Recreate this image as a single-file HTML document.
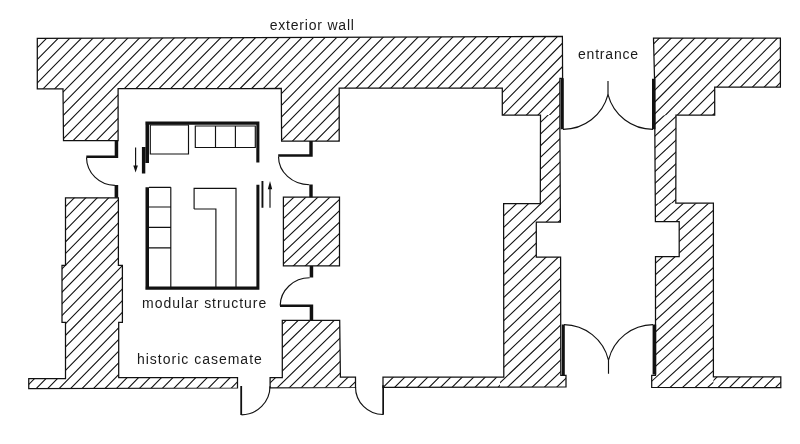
<!DOCTYPE html><html><head><meta charset="utf-8"><style>html,body{margin:0;padding:0;background:#fff;}svg{display:block;filter:grayscale(1)}text{font-family:"Liberation Sans",sans-serif;fill:#1a1a1a}</style></head><body>
<svg width="800" height="444" viewBox="0 0 800 444">
<defs>
<clipPath id="cL1"><path d="M37.30 38.40L562.40 36.50L562.60 78.40L559.90 78.40L559.90 130.00L560.40 222.00L536.30 222.00L536.30 257.00L560.60 257.00L560.80 375.40L566.00 375.40L566.00 387.00L383.00 387.30L383.00 377.20L503.80 377.20L503.60 203.50L540.30 203.50L540.50 115.00L502.30 115.00L502.30 88.00L339.20 88.00L339.20 141.00L281.60 141.00L281.30 88.50L118.10 88.70L118.10 140.60L63.50 140.60L63.00 88.75L37.30 88.75Z"/></clipPath>
<clipPath id="cL2"><path d="M65.50 197.80L118.40 197.80L118.40 265.40L122.40 265.40L122.40 322.30L118.70 322.30L118.70 377.70L237.50 377.70L237.50 388.00L28.75 388.50L28.75 378.60L65.50 378.60L65.50 322.30L62.00 322.30L62.00 265.40L65.50 265.40Z"/></clipPath>
<clipPath id="cL3"><path d="M283.40 197.20L339.50 197.20L339.50 265.90L283.40 265.90Z"/></clipPath>
<clipPath id="cL4"><path d="M282.30 320.30L339.70 320.30L340.40 377.20L355.50 377.20L355.50 387.50L270.10 387.80L270.10 377.70L282.30 377.70Z"/></clipPath>
<clipPath id="cR1"><path d="M653.50 38.00L780.40 38.00L780.40 87.00L714.70 87.00L714.70 115.00L676.00 115.00L675.80 203.20L713.40 203.20L713.40 376.90L780.80 376.90L780.80 387.60L651.70 387.30L651.70 375.40L655.50 375.40L655.50 256.70L679.20 256.70L679.20 221.60L655.40 221.60L654.50 78.00Z"/></clipPath>
<clipPath id="rF1"><path d="M0 0H500V142H0ZM500 0H570V115H500Z"/></clipPath>
<clipPath id="rF2"><path d="M500 115H570V390H500Z"/></clipPath>
<clipPath id="rF3"><path d="M370 370H500V390H370Z"/></clipPath>
<clipPath id="rF4"><path d="M0 0H800V444H0Z"/></clipPath>
<clipPath id="rF5"><path d="M0 0H800V444H0Z"/></clipPath>
<clipPath id="rF6"><path d="M0 0H800V444H0Z"/></clipPath>
<clipPath id="rF7"><path d="M640 0H800V115.2H640Z"/></clipPath>
<clipPath id="rF8a"><path d="M640 115.2H800V203.2H640Z"/></clipPath>
<clipPath id="rF8"><path d="M640 203.2H713.4V390H640Z"/></clipPath>
<clipPath id="rF9"><path d="M713.4 370H800V390H713.4Z"/></clipPath>
</defs>
<g clip-path="url(#cL1)"><path clip-path="url(#rF1)" d="M-150.05 144.00L-6.24 -2.00M-138.48 144.00L5.33 -2.00M-126.91 144.00L16.90 -2.00M-115.34 144.00L28.47 -2.00M-103.77 144.00L40.04 -2.00M-92.20 144.00L51.61 -2.00M-80.63 144.00L63.18 -2.00M-69.06 144.00L74.75 -2.00M-57.49 144.00L86.32 -2.00M-45.92 144.00L97.89 -2.00M-34.35 144.00L109.46 -2.00M-22.78 144.00L121.03 -2.00M-11.21 144.00L132.60 -2.00M0.36 144.00L144.17 -2.00M11.93 144.00L155.74 -2.00M23.50 144.00L167.31 -2.00M35.07 144.00L178.88 -2.00M46.64 144.00L190.45 -2.00M58.21 144.00L202.02 -2.00M69.78 144.00L213.59 -2.00M81.35 144.00L225.16 -2.00M92.92 144.00L236.73 -2.00M104.49 144.00L248.30 -2.00M116.06 144.00L259.87 -2.00M127.63 144.00L271.44 -2.00M139.20 144.00L283.01 -2.00M150.77 144.00L294.58 -2.00M162.34 144.00L306.15 -2.00M173.91 144.00L317.72 -2.00M185.48 144.00L329.29 -2.00M197.05 144.00L340.86 -2.00M208.62 144.00L352.43 -2.00M220.19 144.00L364.00 -2.00M231.76 144.00L375.57 -2.00M243.33 144.00L387.14 -2.00M254.90 144.00L398.71 -2.00M266.47 144.00L410.28 -2.00M278.04 144.00L421.85 -2.00M289.61 144.00L433.42 -2.00M301.18 144.00L444.99 -2.00M312.75 144.00L456.56 -2.00M324.32 144.00L468.13 -2.00M335.89 144.00L479.70 -2.00M347.46 144.00L491.27 -2.00M359.03 144.00L502.84 -2.00M370.60 144.00L514.41 -2.00M382.17 144.00L525.98 -2.00M393.74 144.00L537.55 -2.00M405.31 144.00L549.12 -2.00M416.88 144.00L560.69 -2.00M428.45 144.00L572.26 -2.00M440.02 144.00L583.83 -2.00M451.59 144.00L595.40 -2.00M463.16 144.00L606.97 -2.00M474.73 144.00L618.54 -2.00M486.30 144.00L630.11 -2.00M497.87 144.00L641.68 -2.00M509.44 144.00L653.25 -2.00M521.01 144.00L664.82 -2.00M532.58 144.00L676.39 -2.00M544.15 144.00L687.96 -2.00M555.72 144.00L699.53 -2.00M567.29 144.00L711.10 -2.00M578.86 144.00L722.67 -2.00" stroke="#111" stroke-width="1.1" fill="none"/></g>
<g clip-path="url(#cL1)"><path clip-path="url(#rF2)" d="M196.04 392.00L488.99 113.00M208.30 392.00L501.25 113.00M220.56 392.00L513.51 113.00M232.82 392.00L525.77 113.00M245.08 392.00L538.03 113.00M257.34 392.00L550.29 113.00M269.60 392.00L562.55 113.00M281.86 392.00L574.81 113.00M294.12 392.00L587.07 113.00M306.38 392.00L599.33 113.00M318.64 392.00L611.59 113.00M330.90 392.00L623.85 113.00M343.16 392.00L636.11 113.00M355.42 392.00L648.37 113.00M367.68 392.00L660.63 113.00M379.94 392.00L672.89 113.00M392.20 392.00L685.15 113.00M404.46 392.00L697.41 113.00M416.72 392.00L709.67 113.00M428.98 392.00L721.93 113.00M441.24 392.00L734.19 113.00M453.50 392.00L746.45 113.00M465.76 392.00L758.71 113.00M478.02 392.00L770.97 113.00M490.28 392.00L783.23 113.00M502.54 392.00L795.49 113.00M514.80 392.00L807.75 113.00M527.06 392.00L820.01 113.00M539.32 392.00L832.27 113.00M551.58 392.00L844.53 113.00M563.84 392.00L856.79 113.00M576.10 392.00L869.05 113.00" stroke="#111" stroke-width="1.1" fill="none"/></g>
<g clip-path="url(#cL1)"><path clip-path="url(#rF3)" d="M344.07 392.00L368.07 368.00M355.55 392.00L379.55 368.00M367.03 392.00L391.03 368.00M378.51 392.00L402.51 368.00M389.99 392.00L413.99 368.00M401.47 392.00L425.47 368.00M412.95 392.00L436.95 368.00M424.43 392.00L448.43 368.00M435.91 392.00L459.91 368.00M447.39 392.00L471.39 368.00M458.87 392.00L482.87 368.00M470.35 392.00L494.35 368.00M481.83 392.00L505.83 368.00M493.31 392.00L517.31 368.00M504.79 392.00L528.79 368.00" stroke="#111" stroke-width="1.1" fill="none"/></g>
<g clip-path="url(#cL2)"><path clip-path="url(#rF4)" d="M-443.70 446.00L-4.66 -2.00M-432.25 446.00L6.79 -2.00M-420.80 446.00L18.24 -2.00M-409.35 446.00L29.69 -2.00M-397.90 446.00L41.14 -2.00M-386.45 446.00L52.59 -2.00M-375.00 446.00L64.04 -2.00M-363.55 446.00L75.49 -2.00M-352.10 446.00L86.94 -2.00M-340.65 446.00L98.39 -2.00M-329.20 446.00L109.84 -2.00M-317.75 446.00L121.29 -2.00M-306.30 446.00L132.74 -2.00M-294.85 446.00L144.19 -2.00M-283.40 446.00L155.64 -2.00M-271.95 446.00L167.09 -2.00M-260.50 446.00L178.54 -2.00M-249.05 446.00L189.99 -2.00M-237.60 446.00L201.44 -2.00M-226.15 446.00L212.89 -2.00M-214.70 446.00L224.34 -2.00M-203.25 446.00L235.79 -2.00M-191.80 446.00L247.24 -2.00M-180.35 446.00L258.69 -2.00M-168.90 446.00L270.14 -2.00M-157.45 446.00L281.59 -2.00M-146.00 446.00L293.04 -2.00M-134.55 446.00L304.49 -2.00M-123.10 446.00L315.94 -2.00M-111.65 446.00L327.39 -2.00M-100.20 446.00L338.84 -2.00M-88.75 446.00L350.29 -2.00M-77.30 446.00L361.74 -2.00M-65.85 446.00L373.19 -2.00M-54.40 446.00L384.64 -2.00M-42.95 446.00L396.09 -2.00M-31.50 446.00L407.54 -2.00M-20.05 446.00L418.99 -2.00M-8.60 446.00L430.44 -2.00M2.85 446.00L441.89 -2.00M14.30 446.00L453.34 -2.00M25.75 446.00L464.79 -2.00M37.20 446.00L476.24 -2.00M48.65 446.00L487.69 -2.00M60.10 446.00L499.14 -2.00M71.55 446.00L510.59 -2.00M83.00 446.00L522.04 -2.00M94.45 446.00L533.49 -2.00M105.90 446.00L544.94 -2.00M117.35 446.00L556.39 -2.00M128.80 446.00L567.84 -2.00M140.25 446.00L579.29 -2.00M151.70 446.00L590.74 -2.00M163.15 446.00L602.19 -2.00M174.60 446.00L613.64 -2.00M186.05 446.00L625.09 -2.00M197.50 446.00L636.54 -2.00M208.95 446.00L647.99 -2.00M220.40 446.00L659.44 -2.00M231.85 446.00L670.89 -2.00M243.30 446.00L682.34 -2.00M254.75 446.00L693.79 -2.00M266.20 446.00L705.24 -2.00M277.65 446.00L716.69 -2.00M289.10 446.00L728.14 -2.00M300.55 446.00L739.59 -2.00M312.00 446.00L751.04 -2.00M323.45 446.00L762.49 -2.00M334.90 446.00L773.94 -2.00M346.35 446.00L785.39 -2.00M357.80 446.00L796.84 -2.00M369.25 446.00L808.29 -2.00M380.70 446.00L819.74 -2.00M392.15 446.00L831.19 -2.00M403.60 446.00L842.64 -2.00M415.05 446.00L854.09 -2.00M426.50 446.00L865.54 -2.00M437.95 446.00L876.99 -2.00M449.40 446.00L888.44 -2.00M460.85 446.00L899.89 -2.00M472.30 446.00L911.34 -2.00M483.75 446.00L922.79 -2.00M495.20 446.00L934.24 -2.00M506.65 446.00L945.69 -2.00M518.10 446.00L957.14 -2.00M529.55 446.00L968.59 -2.00M541.00 446.00L980.04 -2.00M552.45 446.00L991.49 -2.00M563.90 446.00L1002.94 -2.00M575.35 446.00L1014.39 -2.00M586.80 446.00L1025.84 -2.00M598.25 446.00L1037.29 -2.00M609.70 446.00L1048.74 -2.00M621.15 446.00L1060.19 -2.00M632.60 446.00L1071.64 -2.00M644.05 446.00L1083.09 -2.00M655.50 446.00L1094.54 -2.00M666.95 446.00L1105.99 -2.00M678.40 446.00L1117.44 -2.00M689.85 446.00L1128.89 -2.00M701.30 446.00L1140.34 -2.00M712.75 446.00L1151.79 -2.00M724.20 446.00L1163.24 -2.00M735.65 446.00L1174.69 -2.00M747.10 446.00L1186.14 -2.00M758.55 446.00L1197.59 -2.00M770.00 446.00L1209.04 -2.00M781.45 446.00L1220.49 -2.00M792.90 446.00L1231.94 -2.00M804.35 446.00L1243.39 -2.00" stroke="#111" stroke-width="1.1" fill="none"/></g>
<g clip-path="url(#cL3)"><path clip-path="url(#rF5)" d="M-483.72 446.00L-11.08 -2.00M-471.74 446.00L0.90 -2.00M-459.76 446.00L12.88 -2.00M-447.78 446.00L24.86 -2.00M-435.80 446.00L36.84 -2.00M-423.82 446.00L48.82 -2.00M-411.84 446.00L60.80 -2.00M-399.86 446.00L72.78 -2.00M-387.88 446.00L84.76 -2.00M-375.90 446.00L96.74 -2.00M-363.92 446.00L108.72 -2.00M-351.94 446.00L120.70 -2.00M-339.96 446.00L132.68 -2.00M-327.98 446.00L144.66 -2.00M-316.00 446.00L156.64 -2.00M-304.02 446.00L168.62 -2.00M-292.04 446.00L180.60 -2.00M-280.06 446.00L192.58 -2.00M-268.08 446.00L204.56 -2.00M-256.10 446.00L216.54 -2.00M-244.12 446.00L228.52 -2.00M-232.14 446.00L240.50 -2.00M-220.16 446.00L252.48 -2.00M-208.18 446.00L264.46 -2.00M-196.20 446.00L276.44 -2.00M-184.22 446.00L288.42 -2.00M-172.24 446.00L300.40 -2.00M-160.26 446.00L312.38 -2.00M-148.28 446.00L324.36 -2.00M-136.30 446.00L336.34 -2.00M-124.32 446.00L348.32 -2.00M-112.34 446.00L360.30 -2.00M-100.36 446.00L372.28 -2.00M-88.38 446.00L384.26 -2.00M-76.40 446.00L396.24 -2.00M-64.42 446.00L408.22 -2.00M-52.44 446.00L420.20 -2.00M-40.46 446.00L432.18 -2.00M-28.48 446.00L444.16 -2.00M-16.50 446.00L456.14 -2.00M-4.52 446.00L468.12 -2.00M7.46 446.00L480.10 -2.00M19.44 446.00L492.08 -2.00M31.42 446.00L504.06 -2.00M43.40 446.00L516.04 -2.00M55.38 446.00L528.02 -2.00M67.36 446.00L540.00 -2.00M79.34 446.00L551.98 -2.00M91.32 446.00L563.96 -2.00M103.30 446.00L575.94 -2.00M115.28 446.00L587.92 -2.00M127.26 446.00L599.90 -2.00M139.24 446.00L611.88 -2.00M151.22 446.00L623.86 -2.00M163.20 446.00L635.84 -2.00M175.18 446.00L647.82 -2.00M187.16 446.00L659.80 -2.00M199.14 446.00L671.78 -2.00M211.12 446.00L683.76 -2.00M223.10 446.00L695.74 -2.00M235.08 446.00L707.72 -2.00M247.06 446.00L719.70 -2.00M259.04 446.00L731.68 -2.00M271.02 446.00L743.66 -2.00M283.00 446.00L755.64 -2.00M294.98 446.00L767.62 -2.00M306.96 446.00L779.60 -2.00M318.94 446.00L791.58 -2.00M330.92 446.00L803.56 -2.00M342.90 446.00L815.54 -2.00M354.88 446.00L827.52 -2.00M366.86 446.00L839.50 -2.00M378.84 446.00L851.48 -2.00M390.82 446.00L863.46 -2.00M402.80 446.00L875.44 -2.00M414.78 446.00L887.42 -2.00M426.76 446.00L899.40 -2.00M438.74 446.00L911.38 -2.00M450.72 446.00L923.36 -2.00M462.70 446.00L935.34 -2.00M474.68 446.00L947.32 -2.00M486.66 446.00L959.30 -2.00M498.64 446.00L971.28 -2.00M510.62 446.00L983.26 -2.00M522.60 446.00L995.24 -2.00M534.58 446.00L1007.22 -2.00M546.56 446.00L1019.20 -2.00M558.54 446.00L1031.18 -2.00M570.52 446.00L1043.16 -2.00M582.50 446.00L1055.14 -2.00M594.48 446.00L1067.12 -2.00M606.46 446.00L1079.10 -2.00M618.44 446.00L1091.08 -2.00M630.42 446.00L1103.06 -2.00M642.40 446.00L1115.04 -2.00M654.38 446.00L1127.02 -2.00M666.36 446.00L1139.00 -2.00M678.34 446.00L1150.98 -2.00M690.32 446.00L1162.96 -2.00M702.30 446.00L1174.94 -2.00M714.28 446.00L1186.92 -2.00M726.26 446.00L1198.90 -2.00M738.24 446.00L1210.88 -2.00M750.22 446.00L1222.86 -2.00M762.20 446.00L1234.84 -2.00M774.18 446.00L1246.82 -2.00M786.16 446.00L1258.80 -2.00M798.14 446.00L1270.78 -2.00M810.12 446.00L1282.76 -2.00" stroke="#111" stroke-width="1.1" fill="none"/></g>
<g clip-path="url(#cL4)"><path clip-path="url(#rF6)" d="M-467.07 446.00L-7.87 -2.00M-455.06 446.00L4.14 -2.00M-443.05 446.00L16.15 -2.00M-431.04 446.00L28.16 -2.00M-419.03 446.00L40.17 -2.00M-407.02 446.00L52.18 -2.00M-395.01 446.00L64.19 -2.00M-383.00 446.00L76.20 -2.00M-370.99 446.00L88.21 -2.00M-358.98 446.00L100.22 -2.00M-346.97 446.00L112.23 -2.00M-334.96 446.00L124.24 -2.00M-322.95 446.00L136.25 -2.00M-310.94 446.00L148.26 -2.00M-298.93 446.00L160.27 -2.00M-286.92 446.00L172.28 -2.00M-274.91 446.00L184.29 -2.00M-262.90 446.00L196.30 -2.00M-250.89 446.00L208.31 -2.00M-238.88 446.00L220.32 -2.00M-226.87 446.00L232.33 -2.00M-214.86 446.00L244.34 -2.00M-202.85 446.00L256.35 -2.00M-190.84 446.00L268.36 -2.00M-178.83 446.00L280.37 -2.00M-166.82 446.00L292.38 -2.00M-154.81 446.00L304.39 -2.00M-142.80 446.00L316.40 -2.00M-130.79 446.00L328.41 -2.00M-118.78 446.00L340.42 -2.00M-106.77 446.00L352.43 -2.00M-94.76 446.00L364.44 -2.00M-82.75 446.00L376.45 -2.00M-70.74 446.00L388.46 -2.00M-58.73 446.00L400.47 -2.00M-46.72 446.00L412.48 -2.00M-34.71 446.00L424.49 -2.00M-22.70 446.00L436.50 -2.00M-10.69 446.00L448.51 -2.00M1.32 446.00L460.52 -2.00M13.33 446.00L472.53 -2.00M25.34 446.00L484.54 -2.00M37.35 446.00L496.55 -2.00M49.36 446.00L508.56 -2.00M61.37 446.00L520.57 -2.00M73.38 446.00L532.58 -2.00M85.39 446.00L544.59 -2.00M97.40 446.00L556.60 -2.00M109.41 446.00L568.61 -2.00M121.42 446.00L580.62 -2.00M133.43 446.00L592.63 -2.00M145.44 446.00L604.64 -2.00M157.45 446.00L616.65 -2.00M169.46 446.00L628.66 -2.00M181.47 446.00L640.67 -2.00M193.48 446.00L652.68 -2.00M205.49 446.00L664.69 -2.00M217.50 446.00L676.70 -2.00M229.51 446.00L688.71 -2.00M241.52 446.00L700.72 -2.00M253.53 446.00L712.73 -2.00M265.54 446.00L724.74 -2.00M277.55 446.00L736.75 -2.00M289.56 446.00L748.76 -2.00M301.57 446.00L760.77 -2.00M313.58 446.00L772.78 -2.00M325.59 446.00L784.79 -2.00M337.60 446.00L796.80 -2.00M349.61 446.00L808.81 -2.00M361.62 446.00L820.82 -2.00M373.63 446.00L832.83 -2.00M385.64 446.00L844.84 -2.00M397.65 446.00L856.85 -2.00M409.66 446.00L868.86 -2.00M421.67 446.00L880.87 -2.00M433.68 446.00L892.88 -2.00M445.69 446.00L904.89 -2.00M457.70 446.00L916.90 -2.00M469.71 446.00L928.91 -2.00M481.72 446.00L940.92 -2.00M493.73 446.00L952.93 -2.00M505.74 446.00L964.94 -2.00M517.75 446.00L976.95 -2.00M529.76 446.00L988.96 -2.00M541.77 446.00L1000.97 -2.00M553.78 446.00L1012.98 -2.00M565.79 446.00L1024.99 -2.00M577.80 446.00L1037.00 -2.00M589.81 446.00L1049.01 -2.00M601.82 446.00L1061.02 -2.00M613.83 446.00L1073.03 -2.00M625.84 446.00L1085.04 -2.00M637.85 446.00L1097.05 -2.00M649.86 446.00L1109.06 -2.00M661.87 446.00L1121.07 -2.00M673.88 446.00L1133.08 -2.00M685.89 446.00L1145.09 -2.00M697.90 446.00L1157.10 -2.00M709.91 446.00L1169.11 -2.00M721.92 446.00L1181.12 -2.00M733.93 446.00L1193.13 -2.00M745.94 446.00L1205.14 -2.00M757.95 446.00L1217.15 -2.00M769.96 446.00L1229.16 -2.00M781.97 446.00L1241.17 -2.00M793.98 446.00L1253.18 -2.00M805.99 446.00L1265.19 -2.00" stroke="#111" stroke-width="1.1" fill="none"/></g>
<g clip-path="url(#cR1)"><path clip-path="url(#rF7)" d="M509.84 117.20L628.45 -2.00M521.65 117.20L640.26 -2.00M533.46 117.20L652.07 -2.00M545.27 117.20L663.88 -2.00M557.08 117.20L675.69 -2.00M568.89 117.20L687.50 -2.00M580.70 117.20L699.31 -2.00M592.51 117.20L711.12 -2.00M604.32 117.20L722.93 -2.00M616.13 117.20L734.74 -2.00M627.94 117.20L746.55 -2.00M639.75 117.20L758.36 -2.00M651.56 117.20L770.17 -2.00M663.37 117.20L781.98 -2.00M675.18 117.20L793.79 -2.00M686.99 117.20L805.60 -2.00M698.80 117.20L817.41 -2.00M710.61 117.20L829.22 -2.00M722.42 117.20L841.03 -2.00M734.23 117.20L852.84 -2.00M746.04 117.20L864.65 -2.00M757.85 117.20L876.46 -2.00M769.66 117.20L888.27 -2.00M781.47 117.20L900.08 -2.00M793.28 117.20L911.89 -2.00M805.09 117.20L923.70 -2.00" stroke="#111" stroke-width="1.1" fill="none"/></g>
<g clip-path="url(#cR1)"><path clip-path="url(#rF8a)" d="M530.35 205.20L628.78 113.20M543.00 205.20L641.44 113.20M555.67 205.20L654.11 113.20M568.33 205.20L666.76 113.20M580.99 205.20L679.42 113.20M593.64 205.20L692.08 113.20M606.31 205.20L704.75 113.20M618.97 205.20L717.40 113.20M631.62 205.20L730.06 113.20M644.28 205.20L742.72 113.20M656.95 205.20L755.38 113.20M669.61 205.20L768.04 113.20M682.26 205.20L780.70 113.20M694.93 205.20L793.37 113.20M707.59 205.20L806.02 113.20M720.25 205.20L818.68 113.20M732.90 205.20L831.34 113.20M745.57 205.20L844.00 113.20M758.23 205.20L856.66 113.20M770.88 205.20L869.32 113.20M783.55 205.20L881.99 113.20M796.21 205.20L894.64 113.20M808.87 205.20L907.30 113.20" stroke="#111" stroke-width="1.1" fill="none"/></g>
<g clip-path="url(#cR1)"><path clip-path="url(#rF8)" d="M426.56 392.00L635.49 201.20M439.11 392.00L648.04 201.20M451.66 392.00L660.59 201.20M464.21 392.00L673.14 201.20M476.76 392.00L685.69 201.20M489.31 392.00L698.24 201.20M501.86 392.00L710.79 201.20M514.41 392.00L723.34 201.20M526.96 392.00L735.89 201.20M539.51 392.00L748.44 201.20M552.06 392.00L760.99 201.20M564.61 392.00L773.54 201.20M577.16 392.00L786.09 201.20M589.71 392.00L798.64 201.20M602.26 392.00L811.19 201.20M614.81 392.00L823.74 201.20M627.36 392.00L836.29 201.20M639.91 392.00L848.84 201.20M652.46 392.00L861.39 201.20M665.01 392.00L873.94 201.20M677.56 392.00L886.49 201.20M690.11 392.00L899.04 201.20M702.66 392.00L911.59 201.20M715.21 392.00L924.14 201.20" stroke="#111" stroke-width="1.1" fill="none"/></g>
<g clip-path="url(#cR1)"><path clip-path="url(#rF9)" d="M679.07 392.00L703.07 368.00M690.56 392.00L714.56 368.00M702.05 392.00L726.05 368.00M713.54 392.00L737.54 368.00M725.03 392.00L749.03 368.00M736.52 392.00L760.52 368.00M748.01 392.00L772.01 368.00M759.50 392.00L783.50 368.00M770.99 392.00L794.99 368.00M782.48 392.00L806.48 368.00M793.97 392.00L817.97 368.00M805.46 392.00L829.46 368.00" stroke="#111" stroke-width="1.1" fill="none"/></g>
<path d="M37.30 38.40L562.40 36.50L562.60 78.40L559.90 78.40L559.90 130.00L560.40 222.00L536.30 222.00L536.30 257.00L560.60 257.00L560.80 375.40L566.00 375.40L566.00 387.00L383.00 387.30L383.00 377.20L503.80 377.20L503.60 203.50L540.30 203.50L540.50 115.00L502.30 115.00L502.30 88.00L339.20 88.00L339.20 141.00L281.60 141.00L281.30 88.50L118.10 88.70L118.10 140.60L63.50 140.60L63.00 88.75L37.30 88.75ZM65.50 197.80L118.40 197.80L118.40 265.40L122.40 265.40L122.40 322.30L118.70 322.30L118.70 377.70L237.50 377.70L237.50 388.00L28.75 388.50L28.75 378.60L65.50 378.60L65.50 322.30L62.00 322.30L62.00 265.40L65.50 265.40ZM283.40 197.20L339.50 197.20L339.50 265.90L283.40 265.90ZM282.30 320.30L339.70 320.30L340.40 377.20L355.50 377.20L355.50 387.50L270.10 387.80L270.10 377.70L282.30 377.70ZM653.50 38.00L780.40 38.00L780.40 87.00L714.70 87.00L714.70 115.00L676.00 115.00L675.80 203.20L713.40 203.20L713.40 376.90L780.80 376.90L780.80 387.60L651.70 387.30L651.70 375.40L655.50 375.40L655.50 256.70L679.20 256.70L679.20 221.60L655.40 221.60L654.50 78.00Z" stroke="#111" stroke-width="1.25" fill="none"/>
<path d="M150.3 125H188.5V154H150.3ZM195.3 126H255.3V147.5H195.3ZM215.5 126V147.5M235.4 126V147.5M149 187.3H170.8M149 207H170.8M149 227.3H170.8M149 247.9H170.8M170.8 187.3V287M194.1 209V188.4H236V287.5M215.9 287.5V209H194.1M135.6 147.4V167M270 187V207.7" stroke="#111" stroke-width="1.15" fill="none"/>
<path d="M86.5 157.5A28.4 28.2 0 0 0 114.9 185.3M278.5 156.5A30.8 28.2 0 0 0 309.3 184.7M309.7 277.8A29.7 28.0 0 0 0 280.2 305.5M241.5 414.8A28.5 28.5 0 0 0 270.0 386.3M355.5 387A27.5 27.5 0 0 0 383 414.5M563 129.3A46.3 46.3 0 0 0 607.9 94.9M653 129.3A46.3 46.3 0 0 1 608.1 94.9M608 81V95M564 324.6A46.3 46.3 0 0 1 608.4 359.8M653 324.6A46.3 46.3 0 0 0 608.6 359.8M608.5 359.5V373.7" stroke="#111" stroke-width="1.15" fill="none"/>
<path d="M133.3 165.5L137.9 165.5L135.6 172.4ZM267.8 189.2L272.2 189.2L270 181.1Z" fill="#111"/>
<path d="M114.7 140.6H118.2V158.0H114.7ZM86.3 155.6H118.2V158.1H86.3ZM114.6 185.1H118.2V197.8H114.6ZM309.3 141.1H312.7V156.5H309.3ZM278.2 154.2H312.7V156.7H278.2ZM309.3 184.5H312.7V197.2H309.3ZM309.7 266.0H313.2V277.5H309.7ZM280.0 304.6H313.2V307.1H280.0ZM309.7 304.6H313.2V320.3H309.7ZM240.3 386.0H242.1V415.0H240.3ZM382.3 385.3H384.0V414.7H382.3ZM560.7 78.2H563.8V129.3H560.7ZM652.0 78.8H655.5V129.3H652.0ZM561.8 324.6H564.8V375.0H561.8ZM652.6 324.6H656.2V374.6H652.6ZM145.4 121.5H259.4V124.7H145.4ZM145.5 121.5H149.0V163.0H145.5ZM256.3 121.5H259.4V162.5H256.3ZM145.5 187.2H149.0V289.8H145.5ZM256.4 184.8H259.4V289.8H256.4ZM145.4 286.4H259.4V289.8H145.4ZM141.9 147.0H145.3V173.5H141.9ZM261.5 181.1H263.4V207.7H261.5Z" fill="#111"/>
<text x="269.7" y="30.2" font-size="14" letter-spacing="0.8">exterior wall</text>
<text x="578.0" y="59.2" font-size="14" letter-spacing="0.8">entrance</text>
<text x="142.1" y="307.8" font-size="14" letter-spacing="0.95">modular structure</text>
<text x="136.9" y="363.6" font-size="14" letter-spacing="1.0">historic casemate</text>
</svg></body></html>
